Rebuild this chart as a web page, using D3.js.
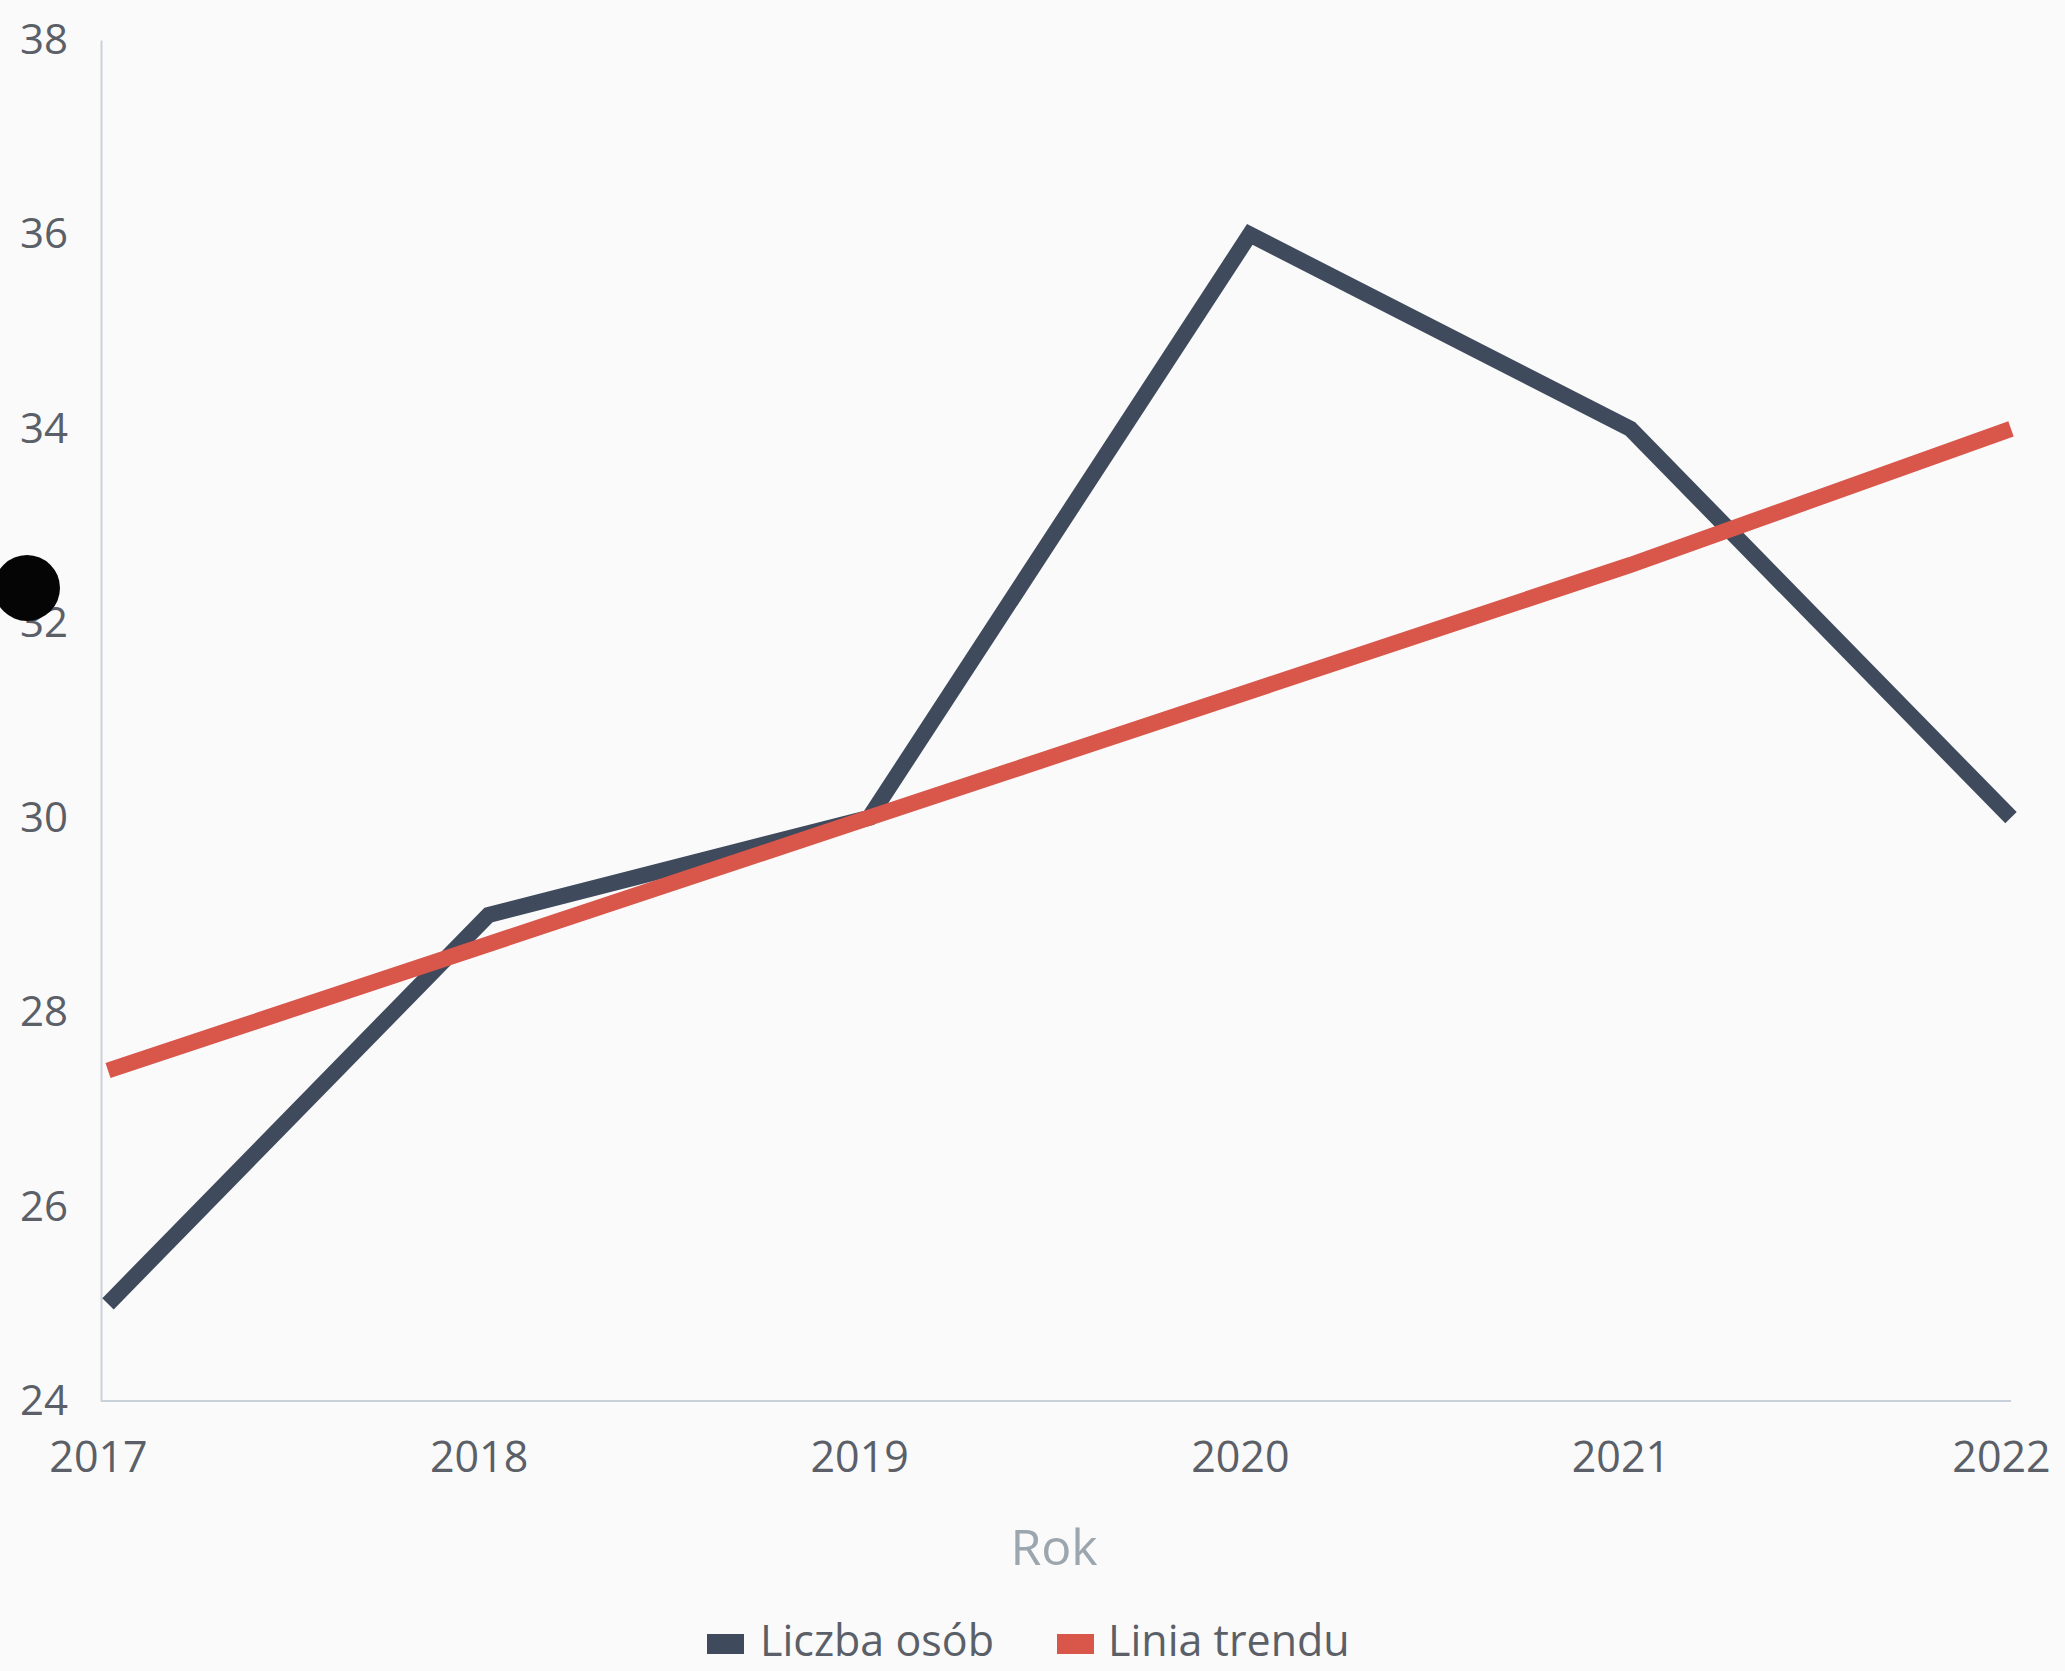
<!DOCTYPE html>
<html><head><meta charset="utf-8">
<script src="https://cdn.jsdelivr.net/npm/d3@7"></script>
<style>
html,body{margin:0;padding:0;background:#fafafa;}
svg{display:block;font-family:"Open Sans",sans-serif;}
</style></head>
<body><svg id="c" width="2065" height="1671"></svg>
<script>
const years = [2017, 2018, 2019, 2020, 2021, 2022];
const liczbaOsob = [25, 29, 30, 36, 34, 30];
const liniaTrendu = [27.4, 28.7, 30.0, 31.3, 32.6, 34.0];
const yTicks = [24, 26, 28, 30, 32, 34, 36, 38];
const seriesNames = ["Liczba osób", "Linia trendu"];
const seriesColors = ["#3f4a5c", "#d9564b"];

const W = 2065, H = 1671;
const svg = d3.select("#c");
svg.append("rect").attr("width", W).attr("height", H).attr("fill", "#fafafa");

const axisX = 101, plotTop = 40, plotBottom = 1401;
const x = d3.scaleLinear().domain([2017, 2022]).range([108, 2011]);
const y = d3.scaleLinear().domain([24, 38]).range([plotBottom, plotTop]);

// y axis
const gy = svg.append("g").attr("transform", `translate(${axisX},0)`)
  .call(d3.axisLeft(y).tickValues(yTicks).tickSize(0).tickPadding(33).tickFormat(d3.format("d")));
gy.select(".domain").attr("stroke", "#c9d1da").attr("stroke-width", 2);
gy.selectAll("text").attr("font-size", 42).attr("fill", "#5b6068").attr("font-family", "Open Sans");

// x axis
const gx = svg.append("g").attr("transform", `translate(-10,${plotBottom})`)
  .call(d3.axisBottom(x).tickValues(years).tickSize(0).tickPadding(40).tickFormat(d3.format("d")));
gx.select(".domain").attr("d", `M${axisX + 10},-40H${2011 + 10}`).attr("stroke", "#c9d1da").attr("stroke-width", 2)
  .attr("transform", "translate(0,40)");
gx.selectAll("text").attr("font-size", 43).attr("fill", "#5b6068").attr("font-family", "Open Sans");

// axis title
svg.append("text").attr("x", 1054).attr("y", 1565).attr("text-anchor", "middle")
  .attr("font-size", 50).attr("fill", "#9ba6af").text("Rok");

// lines
const line = d3.line().x((d, i) => x(years[i])).y(d => y(d));
[liczbaOsob, liniaTrendu].forEach((s, k) => {
  svg.append("path").datum(s).attr("d", line).attr("fill", "none")
    .attr("stroke", seriesColors[k]).attr("stroke-width", 16)
    .attr("stroke-linejoin", "miter").attr("stroke-linecap", "butt");
});

// legend
const legend = [{sx: 707, tx: 760}, {sx: 1057, tx: 1108}];
legend.forEach((p, k) => {
  svg.append("rect").attr("x", p.sx).attr("y", 1634).attr("width", 37).attr("height", 20)
    .attr("fill", seriesColors[k]);
  svg.append("text").attr("x", p.tx).attr("y", 1656).attr("font-size", 43)
    .attr("fill", "#5b6068").text(seriesNames[k]);
});

// black dot decoration
svg.append("circle").attr("cx", 27).attr("cy", 588).attr("r", 33).attr("fill", "#050505");
</script></body></html>
